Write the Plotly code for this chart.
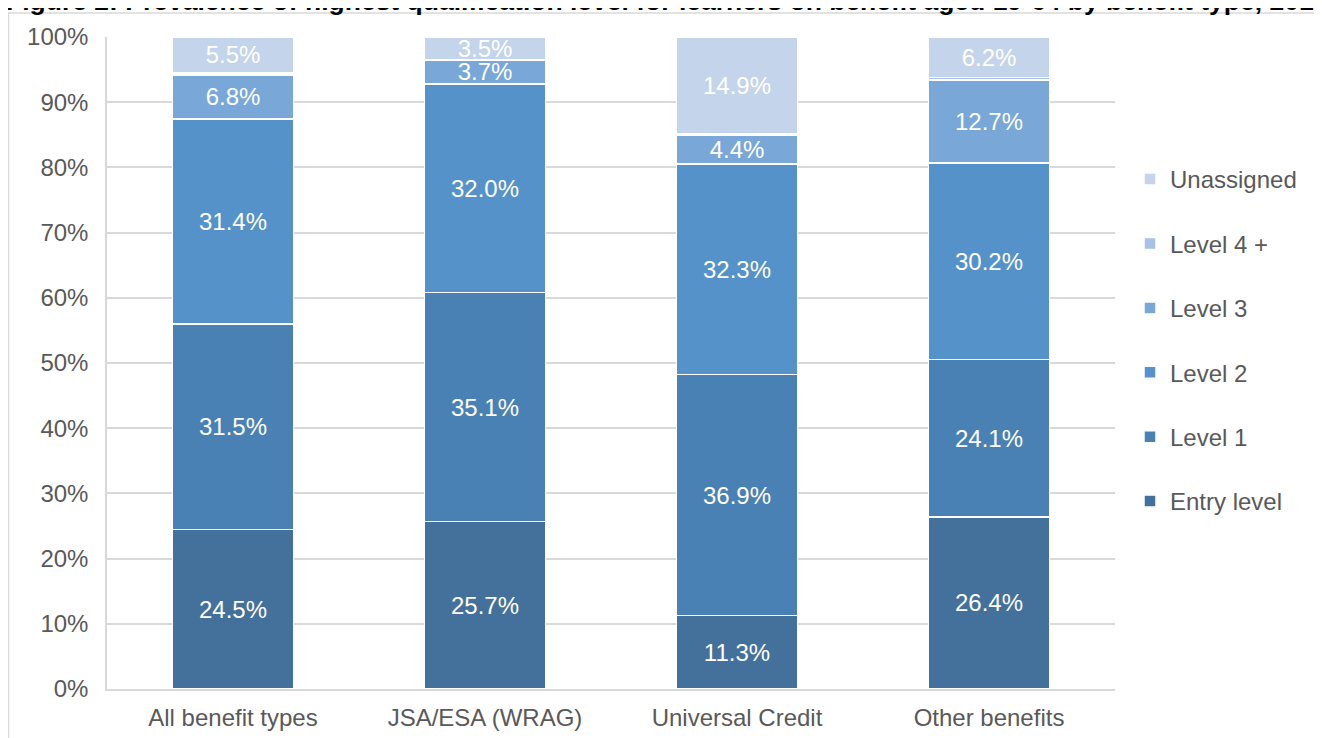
import plotly.graph_objects as go

categories = ["All benefit types", "JSA/ESA (WRAG)", "Universal Credit", "Other benefits"]
entry_level = [24.5, 25.7, 11.3, 26.4]
level_1 = [31.5, 35.1, 36.9, 24.1]
level_2 = [31.4, 32.0, 32.3, 30.2]
level_3 = [6.8, 3.7, 4.4, 12.7]
level_4_plus = [0.3, 0.0, 0.2, 0.4]
unassigned = [5.5, 3.5, 14.9, 6.2]

series = [
    ("Entry level", entry_level, "#43719c", True),
    ("Level 1", level_1, "#4a81b4", True),
    ("Level 2", level_2, "#5592c9", True),
    ("Level 3", level_3, "#79a7d8", True),
    ("Level 4 +", level_4_plus, "#a7c2e5", False),
    ("Unassigned", unassigned, "#c4d4ea", True),
]

FONT = "Liberation Sans, Arial, sans-serif"
FS = 24
fig = go.Figure()
n = len(series)
for i, (name, vals, color, show_text) in enumerate(series):
    fig.add_trace(go.Bar(
        x=categories, y=vals, name=name, legendgroup=name,
        legendrank=100 + (n - i),
        marker=dict(color=color, line=dict(color="white", width=1.5)),
        text=[f"{v:.1f}%" for v in vals] if show_text else None,
        textposition="inside" if show_text else "none",
        insidetextanchor="middle",
        textangle=0,
        constraintext="none",
        textfont=dict(color="white", size=FS, family=FONT),
        hoverinfo="name+y",
    ))

# page is offset by 8px body margin
FW, FH = 1314, 730
L, T = 99, 29
PR, PB = 1107, 681
W, H = PR - L, PB - T

fig.update_layout(
    width=FW, height=FH,
    margin=dict(l=L, r=FW - PR, t=T, b=FH - PB),
    barmode="stack", bargap=0.52,
    plot_bgcolor="white", paper_bgcolor="white",
    font=dict(family=FONT, size=FS, color="#595959"),
    legend=dict(
        x=1 + (1122 - PR) / W, xanchor="left",
        y=1 - (149 - T) / H, yanchor="top",
        traceorder="grouped", tracegroupgap=30.2,
        font=dict(size=FS, color="#595959", family=FONT),
        itemwidth=30,
    ),
    xaxis=dict(showgrid=False, showline=True, linecolor="#d9d9d9", linewidth=1.5,
               ticks="", tickfont=dict(size=FS, color="#595959"), automargin=False,
               ticklabelstandoff=6),
    yaxis=dict(range=[0, 100], dtick=10, ticksuffix="%", showgrid=True,
               gridcolor="#d9d9d9", gridwidth=1.5, showline=True, linecolor="#d9d9d9",
               linewidth=1.5, ticks="", zeroline=False, automargin=False,
               ticklabelstandoff=12,
               tickfont=dict(size=FS, color="#595959")),
    shapes=[dict(type="rect", xref="paper", yref="paper",
                 x0=(0.5 - L) / W, x1=(1340 - L) / W,
                 y0=-(760 - PB) / H, y1=1 + (T - 5) / H,
                 line=dict(color="#d9d9d9", width=1.5), fillcolor="rgba(0,0,0,0)", layer="below")],
    annotations=[dict(
        text="<b>Figure 2: Prevalence of highest qualification level for learners on benefit aged 19-64 by benefit type, 2019/20</b>",
        xref="paper", yref="paper", x=(-4 - L) / W, xanchor="left",
        y=1 + (T - 10.5) / H, yanchor="bottom", showarrow=False,
        font=dict(size=26.5, color="#000000", family=FONT),
    )],
)

fig.write_html("out.html")
